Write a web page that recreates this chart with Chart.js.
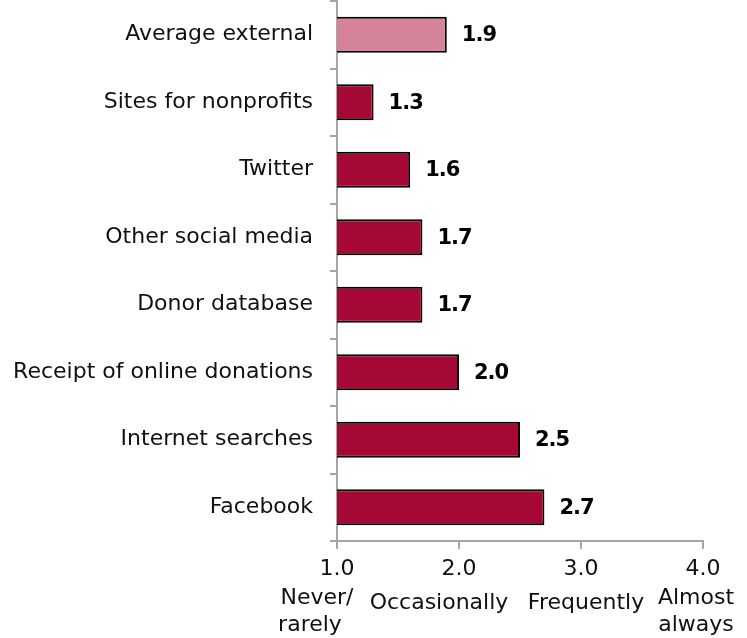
<!DOCTYPE html>
<html>
<head>
<meta charset="utf-8">
<script src="https://cdn.jsdelivr.net/npm/chart.js@4/dist/chart.umd.min.js"></script>
<style>
  html, body { margin: 0; padding: 0; background: #fff; }
  #wrap { width: 747px; height: 638px; }
</style>
</head>
<body>
<div id="wrap"><canvas id="chart" width="747" height="638"></canvas></div>
<script>
// Datos del gráfico
const categorias = [
    'Average external',
    'Sites for nonprofits',
    'Twitter',
    'Other social media',
    'Donor database',
    'Receipt of online donations',
    'Internet searches',
    'Facebook'
];
const valores = [1.9, 1.3, 1.6, 1.7, 1.7, 2.0, 2.5, 2.7];
const ticksX = [1, 2, 3, 4];
const etiquetasEscala = [
    ['Never/', 'rarely'],
    ['Occasionally'],
    ['Frequently'],
    ['Almost', 'always']
];

const FUENTE = '"DejaVu Sans", sans-serif';
const colores = valores.map((v, i) => i === 0 ? '#D48399' : '#A50834');

// Etiquetas de valor al final de cada barra
const valorPlugin = {
    id: 'valorLabels',
    afterDatasetsDraw(chart) {
        const ctx = chart.ctx;
        const meta = chart.getDatasetMeta(0);
        ctx.save();
        ctx.font = 'bold 21px ' + FUENTE;
        ctx.letterSpacing = '-1px';
        ctx.fillStyle = '#000';
        ctx.textAlign = 'left';
        ctx.textBaseline = 'middle';
        meta.data.forEach((bar, i) => {
            ctx.fillText(valores[i].toFixed(1), bar.x + 15, bar.y + 1);
        });
        ctx.restore();
    }
};

// Textos de la escala debajo de los números del eje X
// (cada línea va un poco corrida respecto del tick, como en el original)
const desplazamientos = [[-20, -27], [-20], [5], [-7, -7]];
const escalaPlugin = {
    id: 'escalaLabels',
    afterDraw(chart) {
        const ctx = chart.ctx;
        const sx = chart.scales.x;
        ctx.save();
        ctx.font = '22px ' + FUENTE;
        ctx.fillStyle = '#111';
        ctx.textAlign = 'center';
        ctx.textBaseline = 'alphabetic';
        ticksX.forEach((v, i) => {
            const lineas = etiquetasEscala[i];
            const base = sx.top + (lineas.length === 1 ? 68 : 63);
            lineas.forEach((txt, j) => {
                ctx.fillText(txt, sx.getPixelForValue(v) + desplazamientos[i][j], base + j * 27);
            });
        });
        ctx.restore();
    }
};

new Chart(document.getElementById('chart'), {
    type: 'bar',
    data: {
        labels: categorias,
        datasets: [{
            data: valores,
            backgroundColor: colores,
            borderColor: '#000',
            borderWidth: 2,
            borderSkipped: 'start',
            categoryPercentage: 1,
            barPercentage: 0.53
        }]
    },
    options: {
        indexAxis: 'y',
        responsive: false,
        animation: false,
        layout: { autoPadding: false, padding: { top: 1, right: 44, left: 10, bottom: 0 } },
        plugins: {
            legend: { display: false },
            tooltip: { enabled: false }
        },
        scales: {
            x: {
                min: 1,
                max: 4,
                afterBuildTicks(scale) {
                    scale.ticks = ticksX.map(v => ({ value: v }));
                },
                afterFit(scale) { scale.height = 97; },
                border: { color: '#A6A6A6', width: 2 },
                grid: {
                    drawOnChartArea: false,
                    tickLength: 8,
                    color: '#A6A6A6',
                    lineWidth: 2
                },
                ticks: {
                    autoSkip: false,
                    maxRotation: 0,
                    padding: 6,
                    color: '#111',
                    font: { family: FUENTE, size: 22, lineHeight: '28px' },
                    callback: v => v.toFixed(1)
                }
            },
            y: {
                afterFit(scale) {
                    scale.width = 327;
                    scale.paddingTop = 0;
                    scale.paddingBottom = 0;
                },
                border: { color: '#A6A6A6', width: 2 },
                grid: {
                    drawOnChartArea: false,
                    offset: true,
                    tickLength: 7,
                    color: '#A6A6A6',
                    lineWidth: 2
                },
                ticks: {
                    padding: 17,
                    color: '#111',
                    font: { family: FUENTE, size: 22 }
                }
            }
        }
    },
    plugins: [valorPlugin, escalaPlugin]
});
</script>
</body>
</html>
